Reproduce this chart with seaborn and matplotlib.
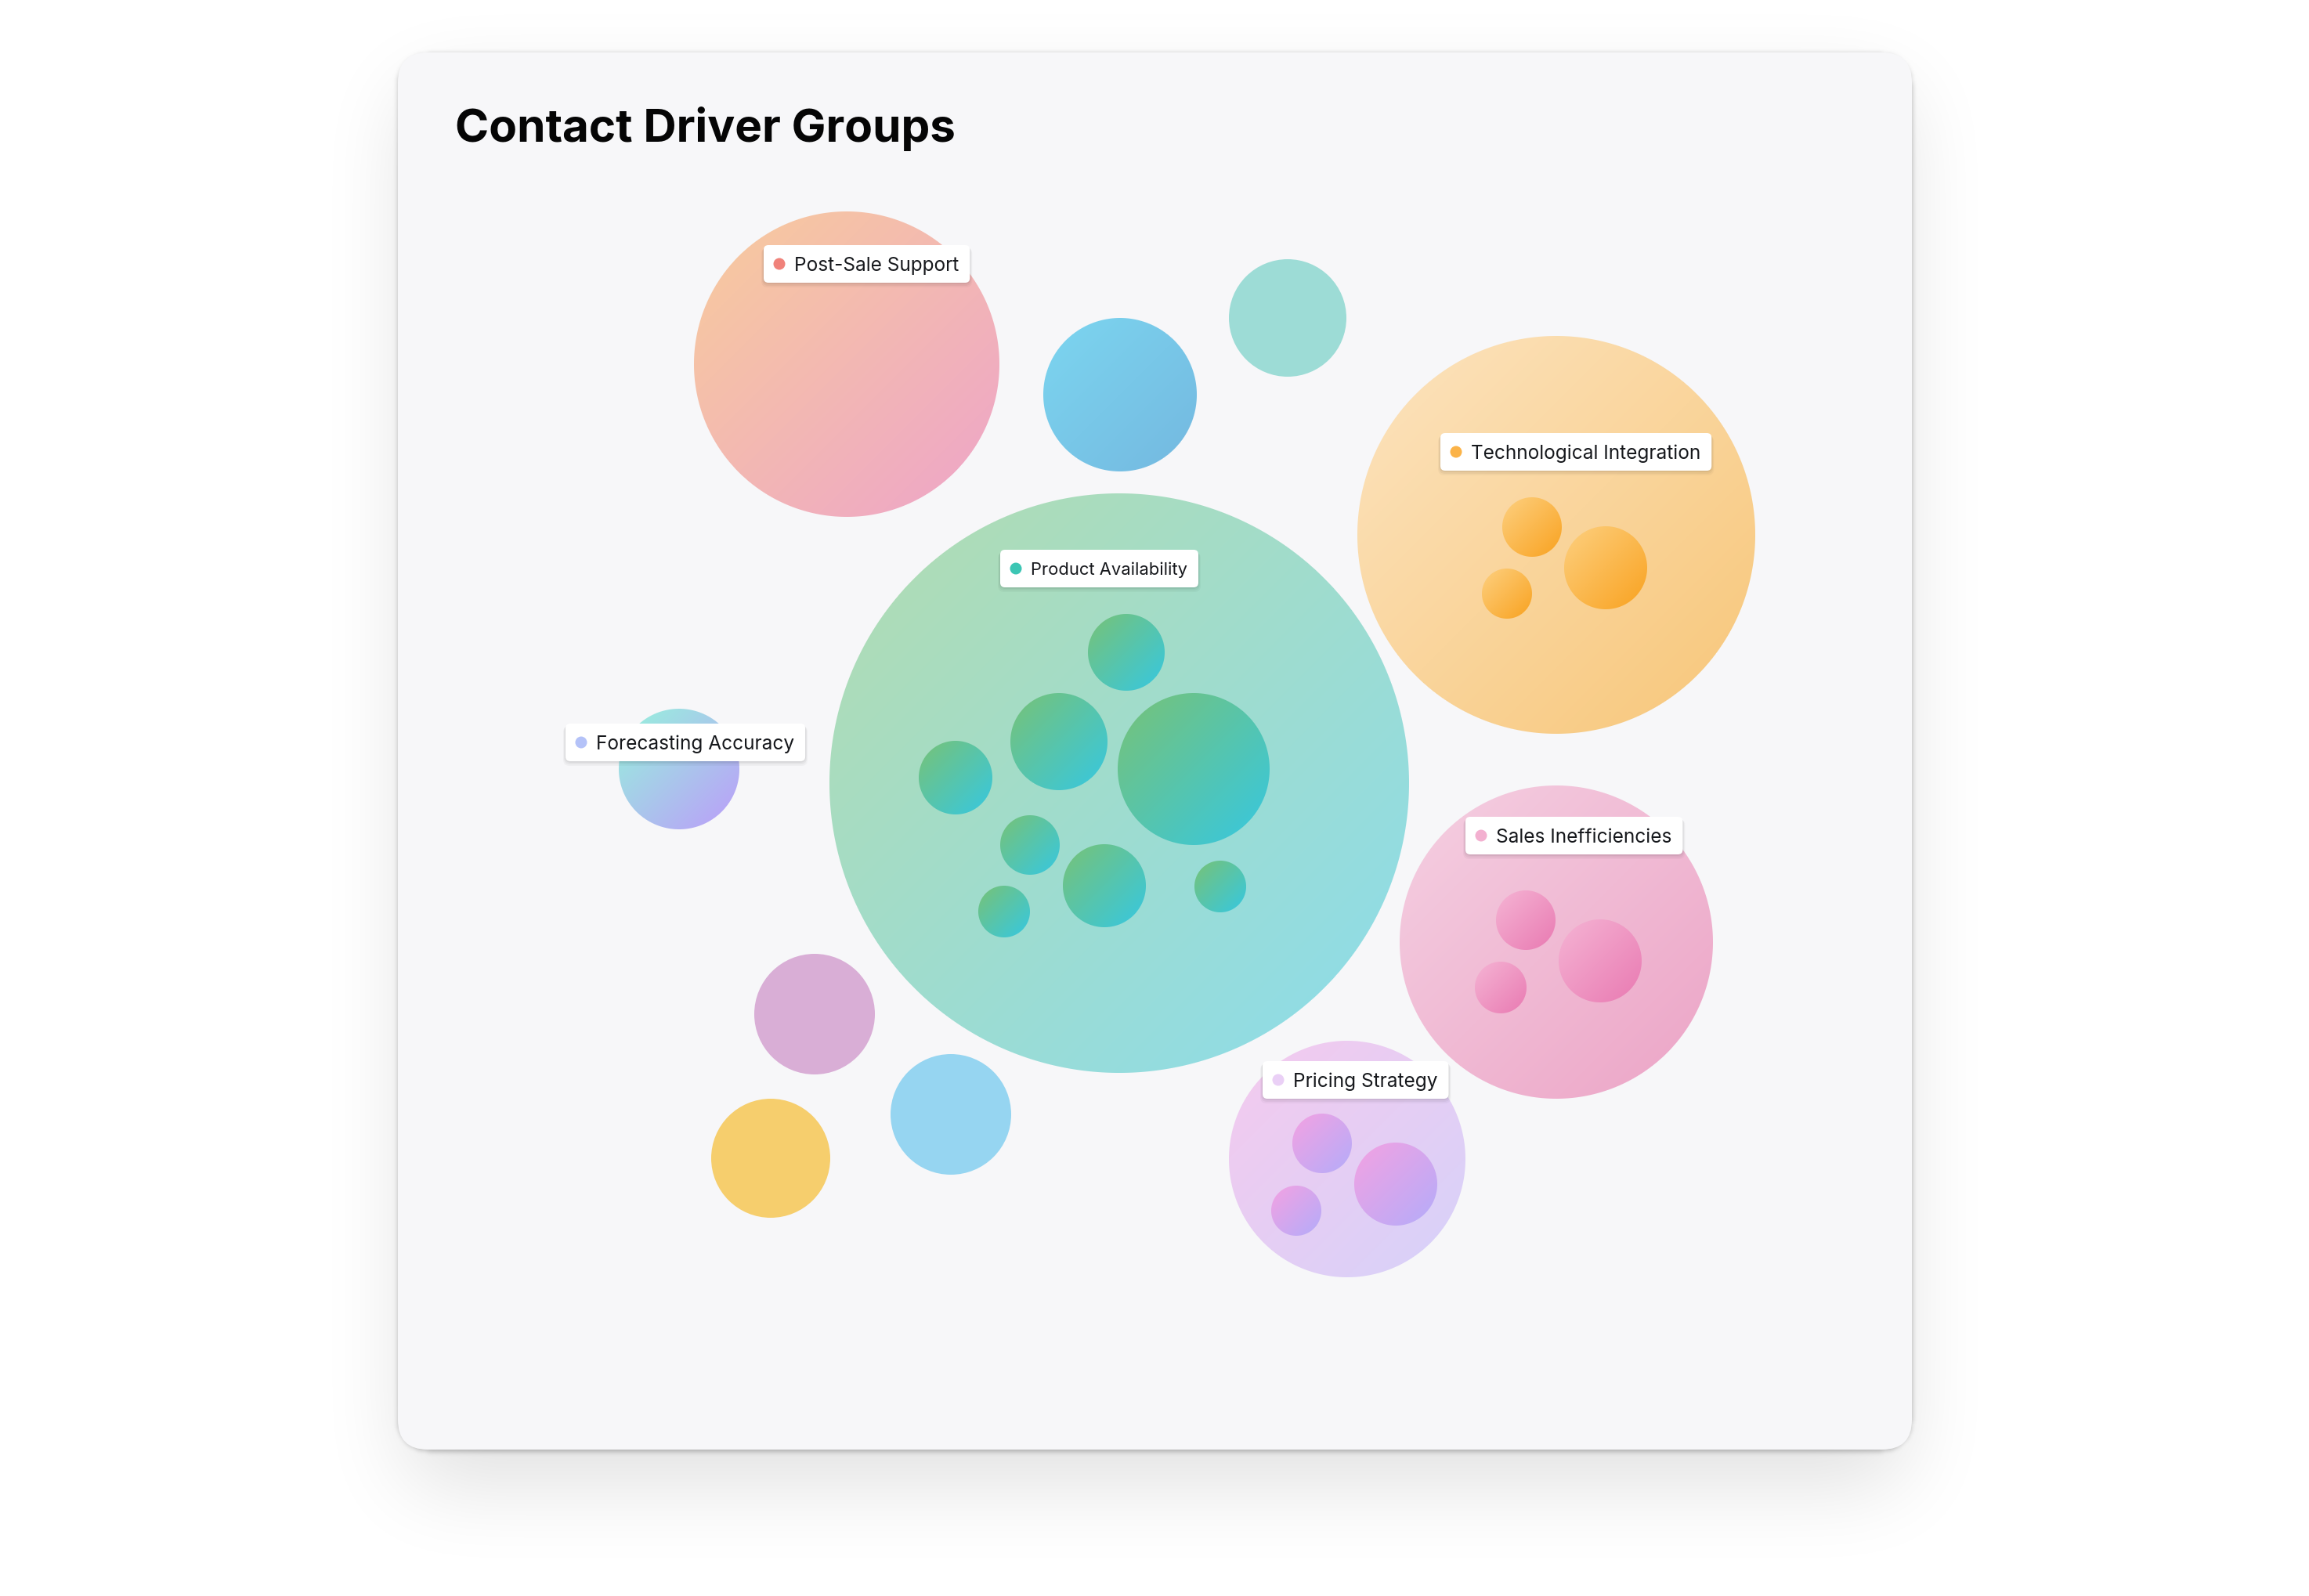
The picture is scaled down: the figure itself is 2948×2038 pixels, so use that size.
import numpy as np
import pandas as pd
import seaborn as sns
import matplotlib.pyplot as plt
from matplotlib.patches import FancyBboxPatch
from matplotlib.colors import to_rgb

W, H = 2948, 2038

# ---- data -------------------------------------------------------------
groups = ["Post-Sale Support", "Product Availability", "Technological Integration",
          "Forecasting Accuracy", "Sales Inefficiencies", "Pricing Strategy"]
group_size = [195, 370, 254, 77, 200, 151]

driver_group = (["Product Availability"] * 8 + ["Technological Integration"] * 3
                + ["Sales Inefficiencies"] * 3 + ["Pricing Strategy"] * 3)
driver_size = [49, 62, 97, 47, 38, 53, 33, 33,
               38, 53, 32,
               38, 53, 33,
               38, 53, 32]

loose_names = ["blue", "teal", "plum", "yellow", "sky"]
loose_size = [98, 75, 77, 76, 77]

# ---- packed layout (pixel space) --------------------------------------
group_cx = [1081, 1429, 1987, 867, 1987, 1720]
group_cy = [465, 1000, 683, 982, 1203, 1480]
driver_cx = [1438, 1352, 1524, 1220, 1315, 1410, 1558, 1282,
             1956, 2050, 1924,
             1948, 2043, 1916,
             1688, 1782, 1655]
driver_cy = [833, 947, 982, 993, 1079, 1131, 1132, 1164,
             673, 725, 758,
             1175, 1227, 1261,
             1460, 1512, 1546]
loose_cx = [1430, 1644, 1040, 984, 1214]
loose_cy = [504, 406, 1295, 1479, 1423]
label_dx = [995, 1297, 1859, 742, 1891, 1632]
label_dy = [337, 726, 577, 948, 1067, 1379]
label_fs = [17.6, 15.8, 17.6, 17.6, 17.6, 17.6]

# ---- styles -----------------------------------------------------------
outer_cols = {
    "Post-Sale Support": ("#f8cc9c", "#eea4ca"),
    "Product Availability": ("#b3ddb0", "#8cdcec"),
    "Technological Integration": ("#fce4c0", "#f8c678"),
    "Forecasting Accuracy": ("#96f4dc", "#bc9cfa"),
    "Sales Inefficiencies": ("#f5d0e2", "#eca4c6"),
    "Pricing Strategy": ("#f5caee", "#d6d2fa"),
}
inner_cols = {
    "Product Availability": ("#78c276", "#36c8e2"),
    "Technological Integration": ("#fdd080", "#f9a220"),
    "Sales Inefficiencies": ("#f5b4d4", "#e97ab2"),
    "Pricing Strategy": ("#f4a2e2", "#b4acfa"),
}
dot_cols = ["#f0827a", "#3cc6b4", "#fbb348", "#b4c2f8", "#f3b0d0", "#ead0f6"]
loose_cols = {"teal": "#9ddcd6", "plum": "#d9aed6", "yellow": "#f6ce6d", "sky": "#96d5f1"}
blue_grad = ("#7cd6f0", "#74b8e0")

groups_df = pd.DataFrame({"group": groups, "r": group_size, "x": group_cx, "y": group_cy,
                          "lx": label_dx, "ly": label_dy, "fs": label_fs, "dot": dot_cols})
drivers_df = pd.DataFrame({"group": driver_group, "r": driver_size, "x": driver_cx, "y": driver_cy})
loose_df = pd.DataFrame({"name": loose_names, "r": loose_size, "x": loose_cx, "y": loose_cy})

sns.set_theme(style="white")
plt.rcParams['font.family'] = ['Inter', 'DejaVu Sans']

fig = plt.figure(figsize=(W / 100, H / 100), dpi=100, facecolor="white")
ax = fig.add_axes([0, 0, 1, 1])
ax.set_xlim(0, W)
ax.set_ylim(H, 0)
ax.axis("off")


def blur(a, k):
    for _ in range(3):
        for axis in (0, 1):
            pad = [(0, 0), (0, 0)]
            pad[axis] = (k // 2 + 1, k // 2)
            c = np.cumsum(np.pad(a, pad), axis=axis)
            n = c.shape[axis]
            a = (np.take(c, np.arange(k, n), axis) - np.take(c, np.arange(0, n - k), axis)) / k
    return a


def rrect_mask(X, Y, x0, y0, x1, y1, R):
    cx, cy = (x0 + x1) / 2, (y0 + y1) / 2
    qx = np.maximum(np.abs(X - cx) - ((x1 - x0) / 2 - R), 0)
    qy = np.maximum(np.abs(Y - cy) - ((y1 - y0) / 2 - R), 0)
    return (np.hypot(qx, qy) <= R).astype(float)


# card + shadow
card = (508, 67, 2441, 1851)
step = 2
gx = np.arange(0, W, step) + step / 2
gy = np.arange(0, H, step) + step / 2
GX, GY = np.meshgrid(gx, gy)
far = blur(rrect_mask(GX, GY, card[0] + 10, card[1] + 45, card[2] - 10, card[3] + 45, 38), 51)
near = blur(rrect_mask(GX, GY, card[0], card[1] + 2, card[2], card[3] + 2, 38), 3)
shadow = np.clip(0.12 * far + 0.22 * near, 0, 1)
shadow_img = np.zeros(shadow.shape + (4,))
shadow_img[..., 3] = shadow
ax.imshow(shadow_img, extent=(0, W, H, 0), zorder=0, interpolation="bilinear")
ax.add_patch(FancyBboxPatch((card[0], card[1]), card[2] - card[0], card[3] - card[1],
                            boxstyle="round,pad=0,rounding_size=38",
                            facecolor="#f7f7f9", edgecolor="none", zorder=1))


def gradient_disc(cx, cy, r, c1, c2, z):
    c1, c2 = np.array(to_rgb(c1)), np.array(to_rgb(c2))
    n = int(2 * r) + 4
    half = n / 2
    xs = np.arange(n) + 0.5 - half
    X, Y = np.meshgrid(xs, xs)
    t = np.clip((X + Y) / (4 * r) + 0.5, 0, 1)
    rgb = (1 - t)[..., None] * c1 + t[..., None] * c2
    a = np.clip(r - np.hypot(X, Y) + 0.5, 0, 1)
    ax.imshow(np.dstack([rgb, a]), extent=(cx - half, cx + half, cy + half, cy - half),
              zorder=z, interpolation="bilinear")


for _, g in groups_df.iterrows():
    c1, c2 = outer_cols[g["group"]]
    gradient_disc(g["x"], g["y"], g["r"], c1, c2, 2)

for _, d in drivers_df.iterrows():
    c1, c2 = inner_cols[d["group"]]
    gradient_disc(d["x"], d["y"], d["r"], c1, c2, 3)

blue = loose_df[loose_df["name"] == "blue"].iloc[0]
gradient_disc(blue["x"], blue["y"], blue["r"], *blue_grad, 2)

solid = loose_df[loose_df["name"] != "blue"].copy()
solid["s"] = (2 * solid["r"] * 0.72) ** 2
sns.scatterplot(data=solid, x="x", y="y", hue="name", palette=loose_cols,
                s=solid["s"].values, linewidth=0, legend=False, ax=ax, zorder=2)

# labels
renderer = fig.canvas.get_renderer()
inv = ax.transData.inverted()
for _, g in groups_df.iterrows():
    t = ax.text(g["lx"] + 19, g["ly"] + 0.36 * g["fs"] / 0.72, g["group"], fontsize=g["fs"],
                color="#16181c", va="baseline", ha="left", zorder=12)
    bb = t.get_window_extent(renderer)
    x_end = inv.transform((bb.x1, bb.y0))[0]
    x0, x1 = g["lx"] - 20, x_end + 14
    y0, y1 = g["ly"] - 24, g["ly"] + 24
    for off, al in [(6, 0.03), (4, 0.04), (2, 0.05)]:
        ax.add_patch(FancyBboxPatch((x0 - off / 2, y0 + off / 2), x1 - x0 + off, y1 - y0 + off / 2,
                                    boxstyle="round,pad=0,rounding_size=8",
                                    facecolor=(0, 0, 0, al), edgecolor="none", zorder=9))
    ax.add_patch(FancyBboxPatch((x0, y0), x1 - x0, y1 - y0, boxstyle="round,pad=0,rounding_size=6",
                                facecolor="white", edgecolor="none", zorder=10))

sns.scatterplot(data=groups_df, x="lx", y="ly", hue="group",
                palette=dict(zip(groups, dot_cols)), s=(15 * 0.72) ** 2,
                linewidth=0, legend=False, ax=ax, zorder=11)

ax.text(581, 181, "Contact Driver Groups", fontsize=42.1, fontweight="bold",
        color="#050505", va="baseline", ha="left", zorder=12)

ax.set_xlim(0, W)
ax.set_ylim(H, 0)
ax.set_xlabel(None)
ax.set_ylabel(None)
fig.savefig("out.png", dpi=100, facecolor="white")
plt.close(fig)
